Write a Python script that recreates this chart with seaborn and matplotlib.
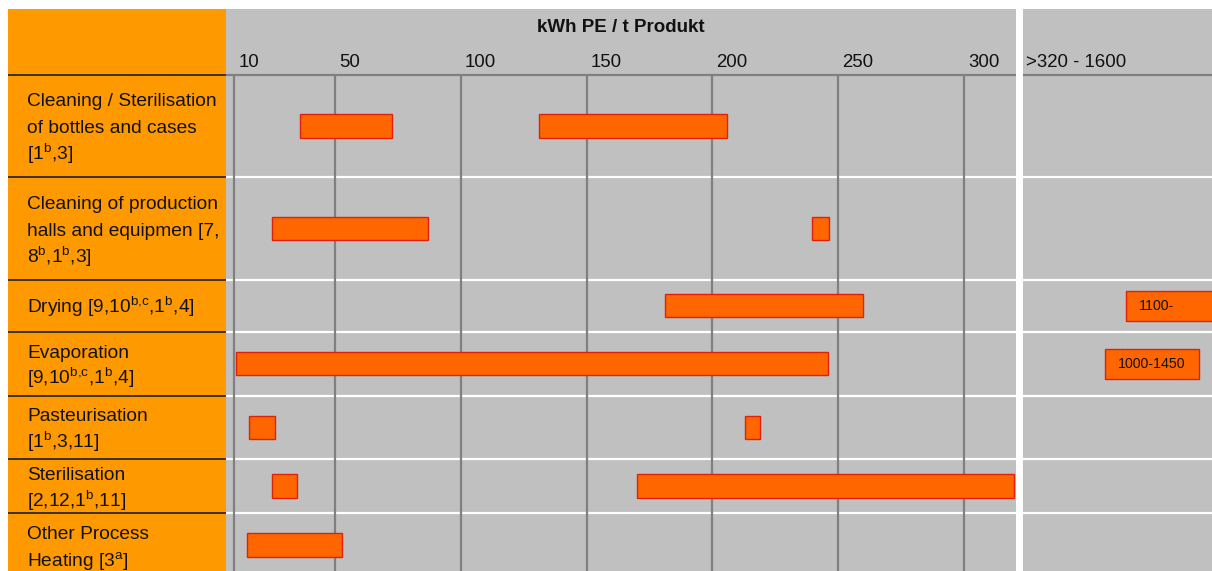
import numpy as np
import matplotlib
matplotlib.use("Agg")
import matplotlib.pyplot as plt
import seaborn as sns

# row labels (top to bottom)
categories = [
    "Cleaning / Sterilisation\nof bottles and cases\n[1$^{b}$,3]",
    "Cleaning of production\nhalls and equipmen [7,\n8$^{b}$,1$^{b}$,3]",
    "Drying [9,10$^{b{,}c}$,1$^{b}$,4]",
    "Evaporation\n[9,10$^{b{,}c}$,1$^{b}$,4]",
    "Pasteurisation\n[1$^{b}$,3,11]",
    "Sterilisation\n[2,12,1$^{b}$,11]",
    "Other Process\nHeating [3$^{a}$]",
]

# ranges on the main scale (kWh PE / t)
seg_row = [0, 0, 1, 1, 2, 3, 4, 4, 5, 5, 6]
seg_start = [36, 131, 25, 239.5, 181, 10.5, 16, 213, 25, 170, 15]
seg_end = [72.5, 206, 87, 246.5, 260, 246, 26, 219, 35, 320, 53]

# ranges beyond 320
high_row = [2, 3]
high_start = [1100, 1000]
high_end = [1600, 1450]
high_text = ["1100-", "1000-1450"]

tick_values = [10, 50, 100, 150, 200, 250, 300]
tick_labels = ["10", "50", "100", "150", "200", "250", "300"]
high_label = ">320 - 1600"
title = "kWh PE / t Produkt"

# layout (pixel-like row heights)
header_h = 65.5
row_h = [102.5, 102.5, 52, 64, 63.5, 54, 64]
visible = 562
line_pitch = 27

sns.set_theme(style="white")
plt.rcParams["font.family"] = ["Liberation Sans", "DejaVu Sans"]
plt.rcParams["mathtext.fontset"] = "custom"
plt.rcParams["mathtext.rm"] = "Liberation Sans"
plt.rcParams["mathtext.default"] = "regular"

W, H = 1212, 571
fig = plt.figure(figsize=(W / 100, H / 100), dpi=100)
fig.patch.set_facecolor("white")


def px_axes(x0, x1):
    return fig.add_axes([x0 / W, 0, (x1 - x0) / W, (H - 9) / H])


ax_lab = px_axes(8, 226)
ax_main = px_axes(226, 1016)
ax_hi = px_axes(1022.5, 1212)

bounds = np.cumsum([header_h] + row_h)
centers = (bounds[:-1] + bounds[1:]) / 2

for ax in (ax_lab, ax_main, ax_hi):
    ax.set_ylim(visible, 0)
    ax.set_xticks([])
    ax.set_yticks([])
    sns.despine(ax=ax, left=True, bottom=True)

ax_lab.set_facecolor("#FF9900")
ax_main.set_facecolor("#C0C0C0")
ax_hi.set_facecolor("#C0C0C0")
ax_lab.set_xlim(0, 1)
ax_main.set_xlim(6.7, 320.7)
ax_hi.set_xlim(606, 1512)

# row separators
for b in bounds[:-1]:
    ax_lab.axhline(b, color="#2e2a20", lw=1.3, zorder=2)
for b in bounds[1:-1]:
    for ax in (ax_main, ax_hi):
        ax.axhline(b, color="white", lw=1.6, zorder=1)
for ax in (ax_main, ax_hi):
    ax.axhline(header_h, color="#808080", lw=1.6, zorder=2)

ax_main.vlines(tick_values, header_h, visible, color="#808080", lw=1.6, zorder=2)

# labels, one text per line so the spacing stays even
for c, lab in zip(centers, categories):
    lines = lab.split("\n")
    n = len(lines)
    for i, ln in enumerate(lines):
        y = c + (i - (n - 1) / 2) * line_pitch + 7.5
        ax_lab.text(19 / 218, y, ln, transform=ax_lab.get_yaxis_transform(),
                    ha="left", va="baseline", fontsize=13.8, color="#111111")

# header
ax_main.text(0.5, 19, title, transform=ax_main.get_yaxis_transform(),
             ha="center", va="center", fontsize=13.5, fontweight="bold",
             color="#111111")
for t, lbl in zip(tick_values, tick_labels):
    ax_main.annotate(lbl, xy=(t, 53.5), xytext=(4, 0), textcoords="offset pixels",
                     ha="left", va="center", fontsize=13.4, color="#111111")
ax_hi.annotate(high_label, xy=(0, 53.5), xycoords=("axes fraction", "data"),
               xytext=(4, 0), textcoords="offset pixels",
               ha="left", va="center", fontsize=13.4, color="#111111")

# bars
s = np.array(seg_start)
e = np.array(seg_end)
ax_main.barh(centers[seg_row], e - s, left=s, height=23.5,
             color="#FF6600", edgecolor="#E0200A", lw=1, zorder=3)

hs = np.array(high_start)
he = np.array(high_end)
ax_hi.barh(centers[high_row], he - hs, left=hs, height=30,
           color="#FF6600", edgecolor="#E0200A", lw=1, zorder=3)
for r, x0, txt in zip(high_row, high_start, high_text):
    ax_hi.annotate(txt, xy=(x0, centers[r]), xytext=(13, 0),
                   textcoords="offset pixels", ha="left", va="center",
                   fontsize=10.2, color="#111111", zorder=4)

fig.savefig("out.png", dpi=100)
